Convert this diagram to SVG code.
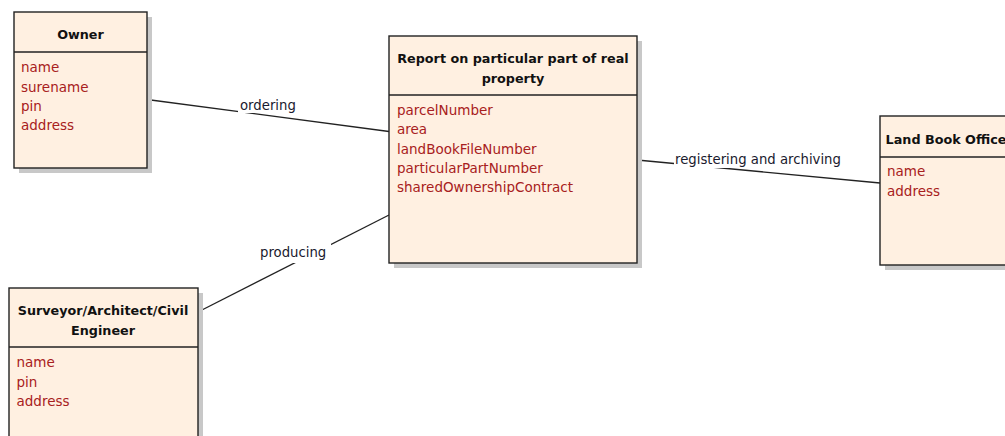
<svg xmlns="http://www.w3.org/2000/svg" width="1005" height="436" viewBox="0 0 1005 436">
  <style>
    .box { fill: #fff0e1; stroke: #222; stroke-width: 1.4; }
    .shadow { fill: #c8c8c8; }
    .div { stroke: #222; stroke-width: 1.4; }
    .title { font-family: "DejaVu Sans", Verdana, sans-serif; font-size: 12.75px; font-weight: bold; fill: #111; text-anchor: middle; }
    .attr { font-family: "DejaVu Sans", Verdana, sans-serif; font-size: 13.5px; fill: #a82020; }
    .conn { stroke: #222; stroke-width: 1.3; fill: none; }
    .lbl { font-family: "DejaVu Sans", Verdana, sans-serif; font-size: 13.25px; fill: #1a1a2e; }
    .lblbg { fill: #ffffff; }
  </style>
  <rect width="1005" height="436" fill="#ffffff"/>

  <g id="connectors">
    <line class="conn" x1="147" y1="99.5" x2="389" y2="131.5"/>
    <line class="conn" x1="637" y1="160" x2="880" y2="183"/>
    <line class="conn" x1="198" y1="312" x2="389" y2="215"/>
    <rect class="lblbg" x="238" y="98" width="59" height="15"/>
    <text class="lbl" x="240" y="110">ordering</text>
    <rect class="lblbg" x="674" y="150" width="170" height="18"/>
    <text class="lbl" x="675" y="164">registering and archiving</text>
    <rect class="lblbg" x="258" y="243" width="73" height="20"/>
    <text class="lbl" x="260" y="257">producing</text>
  </g>

  <g id="owner">
    <rect class="shadow" x="19" y="17" width="133" height="156"/>
    <rect class="box" x="14" y="12" width="133" height="156"/>
    <line class="div" x1="14" y1="52" x2="147" y2="52"/>
    <text class="title" x="80.5" y="39">Owner</text>
    <text class="attr" x="21" y="72">name</text>
    <text class="attr" x="21" y="91.5">surename</text>
    <text class="attr" x="21" y="111">pin</text>
    <text class="attr" x="21" y="130">address</text>
  </g>

  <g id="report">
    <rect class="shadow" x="394" y="41" width="248" height="227"/>
    <rect class="box" x="389" y="36" width="248" height="227"/>
    <line class="div" x1="389" y1="95" x2="637" y2="95"/>
    <text class="title" x="513" y="63">Report on particular part of real</text>
    <text class="title" x="513" y="83">property</text>
    <text class="attr" x="397" y="115">parcelNumber</text>
    <text class="attr" x="397" y="134.3">area</text>
    <text class="attr" x="397" y="153.6">landBookFileNumber</text>
    <text class="attr" x="397" y="173">particularPartNumber</text>
    <text class="attr" x="397" y="192.3">sharedOwnershipContract</text>
  </g>

  <g id="land-book-office">
    <rect class="shadow" x="885" y="121" width="140" height="149"/>
    <rect class="box" x="880" y="116" width="140" height="149"/>
    <line class="div" x1="880" y1="157" x2="1020" y2="157"/>
    <text class="title" x="946" y="143.5">Land Book Office</text>
    <text class="attr" x="887" y="176">name</text>
    <text class="attr" x="887" y="195.5">address</text>
  </g>

  <g id="surveyor">
    <rect class="shadow" x="14" y="293" width="189" height="160"/>
    <rect class="box" x="9" y="288" width="189" height="160"/>
    <line class="div" x1="9" y1="347" x2="198" y2="347"/>
    <text class="title" x="103" y="315">Surveyor/Architect/Civil</text>
    <text class="title" x="103" y="335">Engineer</text>
    <text class="attr" x="16.5" y="367.3">name</text>
    <text class="attr" x="16.5" y="386.7">pin</text>
    <text class="attr" x="16.5" y="406">address</text>
  </g>
</svg>
